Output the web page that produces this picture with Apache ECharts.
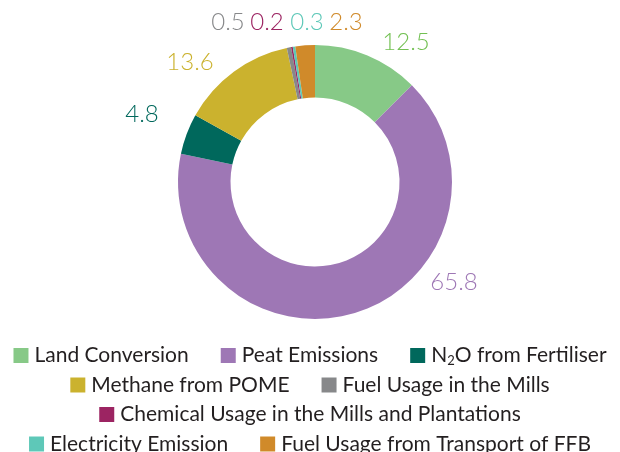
<!DOCTYPE html>
<html>
<head>
<meta charset="utf-8">
<script src="https://cdn.jsdelivr.net/npm/echarts@6/dist/echarts.min.js"></script>
<style>
  html, body { margin: 0; padding: 0; background: #fff; }
  #chart { width: 620px; height: 452px; }
</style>
</head>
<body>
<div id="chart"></div>
<script>
// 数据
var names = ['Land Conversion', 'Peat Emissions', 'N2O from Fertiliser', 'Methane from POME',
  'Fuel Usage in the Mills', 'Chemical Usage in the Mills and Plantations',
  'Electricity Emission', 'Fuel Usage from Transport of FFB'];
var values = [12.5, 65.8, 4.8, 13.6, 0.5, 0.2, 0.3, 2.3];
var colors = ['#87c987', '#9e77b5', '#00685c', '#cbb22e', '#87888a', '#9c2462', '#5ec8b8', '#d08a2a'];
var labelColors = ['#72c052', '#9e77b5', '#00685c', '#cbb22e', '#87888a', '#9c2462', '#5ec8b8', '#d08a2a'];

// legend rows
var legendRows = [
  [names[0], names[1], names[2]],
  [names[3], names[4]],
  [names[5]],
  [names[6], names[7]]
];

var myChart = echarts.init(document.getElementById('chart'));

// label spots (centre of each value label)
var labelSpots = [[406, 42], [454, 282], [142, 114], [190, 62], [228, 22], [267, 22], [307, 22], [346, 22]];

var legends = legendRows.map(function (row, i) {
  return {
    data: row,
    left: 'center',
    top: 340 + i * 29.5,
    itemWidth: 15,
    itemHeight: 15,
    itemGap: 32,
    icon: 'rect',
    textStyle: {
      fontFamily: 'Lato',
      fontSize: 21,
      color: '#231f20',
      padding: [0, 0, 0, 1],
      rich: {
        sub: { fontFamily: 'Lato', fontSize: 13, color: '#231f20', padding: [10, 0, 0, 0] }
      }
    },
    formatter: function (name) {
      return name === 'N2O from Fertiliser' ? 'N{sub|2}O from Fertiliser' : name;
    }
  };
});

var seriesData = names.map(function (n, i) {
  return {
    name: n,
    value: values[i],
    itemStyle: { color: colors[i] },
    label: { color: labelColors[i] }
  };
});

var option = {
  animation: false,
  legend: legends,
  series: [{
    type: 'pie',
    center: [315, 182],
    radius: [84.5, 137],
    startAngle: 90,
    clockwise: true,
    avoidLabelOverlap: false,
    label: {
      show: true,
      position: 'outside',
      fontFamily: 'Lato',
      fontWeight: 300,
      fontSize: 24,
      formatter: function (p) { return p.value.toFixed(1); }
    },
    labelLine: { show: false },
    labelLayout: function (params) {
      var p = labelSpots[params.dataIndex];
      return { x: p[0], y: p[1], align: 'center', verticalAlign: 'middle' };
    },
    emphasis: { disabled: true },
    data: seriesData
  }]
};

myChart.setOption(option, true);
</script>
</body>
</html>
